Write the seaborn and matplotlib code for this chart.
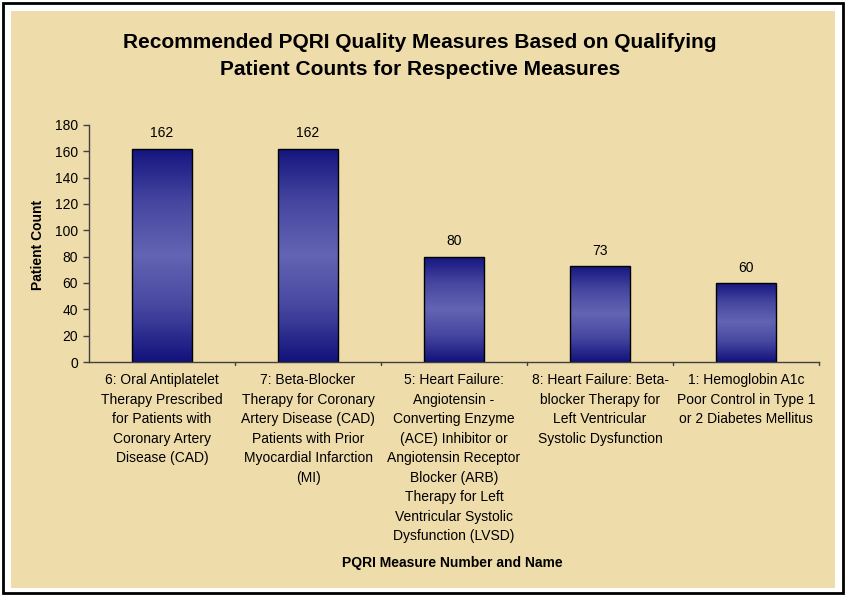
import numpy as np
import pandas as pd
import matplotlib
matplotlib.use("Agg")
import matplotlib.pyplot as plt
from matplotlib.patches import Rectangle
from matplotlib.colors import LinearSegmentedColormap
import seaborn as sns

categories = [
    "6: Oral Antiplatelet\nTherapy Prescribed\nfor Patients with\nCoronary Artery\nDisease (CAD)",
    "7: Beta-Blocker\nTherapy for Coronary\nArtery Disease (CAD)\nPatients with Prior\nMyocardial Infarction\n(MI)",
    "5: Heart Failure:\nAngiotensin -\nConverting Enzyme\n(ACE) Inhibitor or\nAngiotensin Receptor\nBlocker (ARB)\nTherapy for Left\nVentricular Systolic\nDysfunction (LVSD)",
    "8: Heart Failure: Beta-\nblocker Therapy for\nLeft Ventricular\nSystolic Dysfunction",
    "1: Hemoglobin A1c\nPoor Control in Type 1\nor 2 Diabetes Mellitus",
]
patient_counts = [162, 162, 80, 73, 60]
y_ticks = [0, 20, 40, 60, 80, 100, 120, 140, 160, 180]

title = "Recommended PQRI Quality Measures Based on Qualifying\nPatient Counts for Respective Measures"
x_label = "PQRI Measure Number and Name"
y_label = "Patient Count"

sns.set_style("white")
plt.rcParams["font.family"] = ["Liberation Sans", "DejaVu Sans"]
plt.rcParams["text.color"] = "black"
plt.rcParams["xtick.color"] = "black"
plt.rcParams["ytick.color"] = "black"

W, H = 846, 596
fig = plt.figure(figsize=(W / 100, H / 100), dpi=100, facecolor="white")

def px_rect(x0, y0, x1, y1, **kw):
    return Rectangle((x0 / W, 1 - y1 / H), (x1 - x0) / W, (y1 - y0) / H,
                     transform=fig.transFigure, **kw)

fig.patches.append(px_rect(3, 3, 843, 593, facecolor="white", edgecolor="black", lw=2.0, zorder=-2))
fig.patches.append(px_rect(11, 11, 835, 588, facecolor="#EFDCAB", edgecolor="none", zorder=-1))

left, right, top, bottom = 89, 819, 125, 362
ax = fig.add_axes([left / W, 1 - bottom / H, (right - left) / W, (bottom - top) / H])
ax.set_facecolor("none")

df = pd.DataFrame({"measure": categories, "count": patient_counts})
sns.barplot(data=df, x="measure", y="count", ax=ax, width=0.41,
            color="#3a3a9a", edgecolor="black", linewidth=1.0, saturation=1)

cmap = LinearSegmentedColormap.from_list(
    "bar", ["#14147f", "#4646a0", "#6464b4", "#4646a0", "#12127c"])
grad = np.linspace(0, 1, 256).reshape(-1, 1)
for p in ax.patches:
    x0, y0 = p.get_x(), p.get_y()
    w, h = p.get_width(), p.get_height()
    im = ax.imshow(grad, cmap=cmap, aspect="auto", origin="upper",
                   extent=[x0, x0 + w, y0, y0 + h], zorder=p.get_zorder() + 0.1)
    im.set_clip_path(p)
    p.set_facecolor("none")
    p.set_zorder(p.get_zorder() + 0.2)

for i, v in enumerate(patient_counts):
    ax.annotate(str(v), (i, v), xytext=(0, 6), textcoords="offset points",
                ha="center", va="bottom", fontsize=10, color="black")

ax.set_xlim(-0.5, len(categories) - 0.5)
ax.set_ylim(0, 180)
ax.set_yticks(y_ticks)
ax.set_yticklabels([str(t) for t in y_ticks], fontsize=10)
ax.set_xticks(np.arange(len(categories)))
ax.set_xticklabels(categories, fontsize=10, linespacing=1.5, va="top")
ax.tick_params(axis="x", length=0, pad=8)
ax.tick_params(axis="y", length=4, width=1, color="#404040", direction="out", pad=4, left=True)
for b in np.arange(0.5, len(categories) - 0.5 + 1e-9, 1.0):
    ax.plot([b, b], [0, -2.5], color="#404040", lw=1, clip_on=False)

sns.despine(ax=ax, top=True, right=True)
for s in ["left", "bottom"]:
    ax.spines[s].set_color("#404040")
    ax.spines[s].set_linewidth(1)

ax.set_xlabel("")
ax.set_ylabel("")
fig.text(38 / W, 1 - 245 / H, y_label, rotation=90, ha="center", va="center",
         fontsize=10, fontweight="bold")
fig.text(452 / W, 1 - 563 / H, x_label, ha="center", va="center",
         fontsize=10, fontweight="bold")
fig.text(420 / W, 1 - 56 / H, title, ha="center", va="center",
         fontsize=15, fontweight="bold", linespacing=1.5)

fig.savefig("out.png", dpi=100, facecolor=fig.get_facecolor())
